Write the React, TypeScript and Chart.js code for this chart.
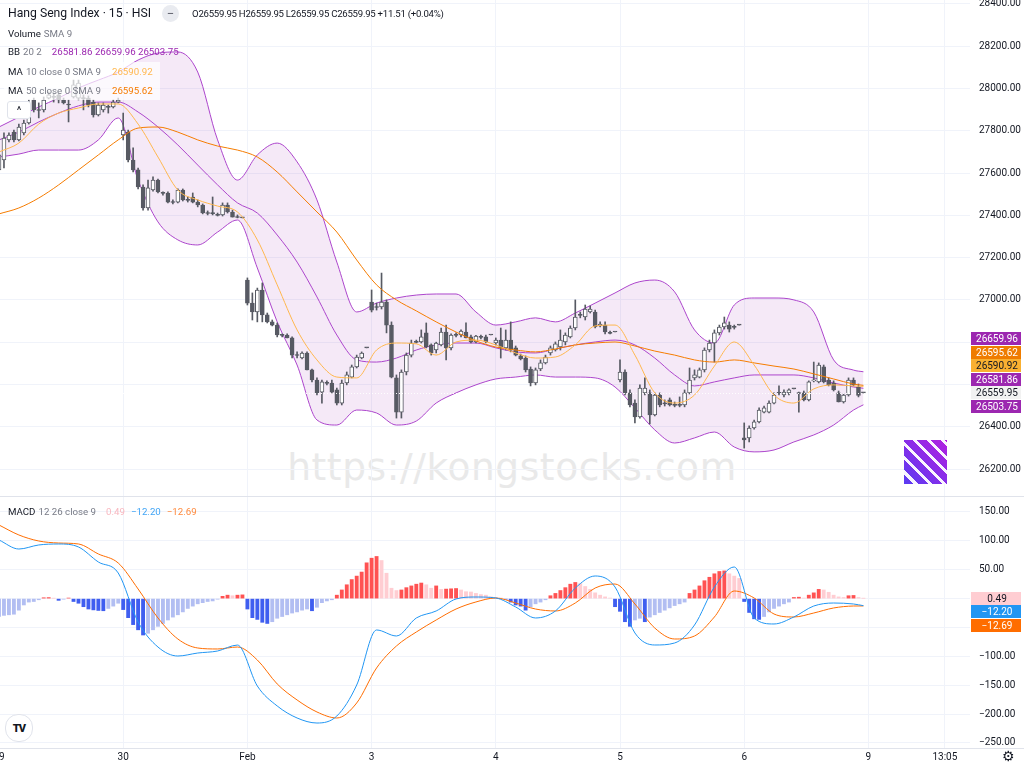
import React, { useEffect, useRef } from "react";
import { Chart, registerables } from "chart.js";

Chart.register(...registerables);

// ---------------- data (15-minute bars, Jan 29 .. Feb 6) ----------------
const OPEN = [
  27615, 27662, 27757, 27794, 27757, 27790, 27837, 27946, 27899, 27899, 27955, 27960, 27970, 27946, 27927, 27960, 27955, 27955, 27955, 27936, 27875, 27899, 27913, 27913, 27936,
  27780, 27794, 27662, 27615, 27534, 27435, 27520, 27567, 27506, 27506, 27463, 27463, 27520, 27473, 27487, 27463, 27449, 27411, 27411, 27402, 27402, 27449, 27416, 27392, 27388,
  27094, 26985, 26943, 27047, 26929, 26896, 26881, 26834, 26834, 26820, 26739, 26725, 26749, 26669, 26621, 26564, 26607, 26607, 26574, 26512, 26607, 26635, 26683, 26725, 26773,
  26990, 26967, 26967, 26990, 26881, 26631, 26469, 26659, 26739, 26801, 26801, 26844, 26787, 26763, 26787, 26848, 26773, 26834, 26834, 26848, 26825, 26801, 26825, 26825, 26834,
  26796, 26810, 26773, 26810, 26773, 26735, 26725, 26673, 26607, 26673, 26702, 26749, 26763, 26777, 26801, 26825, 26867, 26929, 26919, 26943, 26943, 26877, 26881, 26844, 26848,
  26621, 26659, 26560, 26512, 26446, 26560, 26560, 26456, 26550, 26512, 26527, 26503, 26503, 26503, 26560, 26631, 26635, 26669, 26763, 26796, 26844, 26872, 26881, 26872, 26881,
  26347, 26347, 26394, 26423, 26469, 26469, 26512, 26560, 26550, 26560, 26579, 26560, 26560, 26527, 26617, 26612, 26683, 26621, 26607, 26560, 26517, 26550, 26621, 26588, 26559.95,
];
const HIGH = [
  27709, 27790, 27790, 27804, 27832, 27851, 27946, 27955, 27932, 27960, 27984, 27979, 27979, 27955, 27946, 28040, 28040, 27970, 27965, 27946, 27932, 27932, 27922, 27946, 27955,
  27884, 27804, 27719, 27624, 27544, 27567, 27582, 27572, 27511, 27511, 27473, 27525, 27525, 27487, 27506, 27473, 27454, 27421, 27487, 27411, 27459, 27459, 27425, 27402, 27388,
  27104, 27033, 27056, 27080, 26938, 26905, 26891, 26839, 26839, 26825, 26754, 26754, 26754, 26673, 26631, 26621, 26617, 26621, 26583, 26621, 26659, 26692, 26739, 26754, 26773,
  27047, 26985, 27127, 27000, 26896, 26645, 26669, 26749, 26810, 26810, 26858, 26891, 26792, 26800, 26867, 26881, 26840, 26844, 26858, 26891, 26834, 26832, 26834, 26834, 26834,
  26820, 26867, 26858, 26896, 26782, 26744, 26735, 26683, 26678, 26716, 26739, 26782, 26801, 26858, 26844, 26877, 27000, 26943, 26976, 26971, 26952, 26896, 26896, 26853, 26848,
  26716, 26669, 26574, 26527, 26598, 26631, 26574, 26560, 26560, 26527, 26536, 26517, 26541, 26574, 26678, 26669, 26678, 26773, 26810, 26858, 26881, 26919, 26896, 26881, 26881,
  26418, 26404, 26432, 26489, 26498, 26522, 26560, 26593, 26574, 26579, 26579, 26564, 26569, 26617, 26706, 26702, 26692, 26631, 26617, 26569, 26555, 26631, 26631, 26602, 26559.95,
];
const LOW = [
  27591, 27624, 27747, 27747, 27752, 27780, 27832, 27889, 27861, 27889, 27951, 27936, 27932, 27927, 27842, 27955, 27946, 27899, 27913, 27865, 27870, 27889, 27884, 27908, 27932,
  27757, 27653, 27605, 27525, 27425, 27425, 27515, 27506, 27496, 27459, 27454, 27459, 27468, 27463, 27459, 27440, 27407, 27402, 27402, 27397, 27397, 27411, 27392, 27388, 27388,
  26976, 26905, 26896, 26896, 26891, 26877, 26825, 26825, 26820, 26725, 26725, 26721, 26669, 26612, 26550, 26512, 26598, 26560, 26503, 26503, 26598, 26631, 26678, 26721, 26773,
  26943, 26952, 26957, 26844, 26631, 26441, 26441, 26645, 26730, 26796, 26796, 26773, 26739, 26749, 26782, 26716, 26763, 26825, 26825, 26820, 26796, 26796, 26815, 26796, 26834,
  26787, 26725, 26763, 26754, 26735, 26716, 26659, 26593, 26598, 26665, 26697, 26739, 26758, 26763, 26787, 26820, 26858, 26915, 26905, 26938, 26867, 26872, 26839, 26839, 26848,
  26612, 26550, 26494, 26418, 26441, 26550, 26413, 26451, 26494, 26498, 26498, 26494, 26494, 26494, 26555, 26621, 26631, 26659, 26754, 26706, 26834, 26862, 26848, 26862, 26881,
  26299, 26328, 26389, 26418, 26465, 26465, 26508, 26550, 26541, 26550, 26579, 26469, 26522, 26522, 26612, 26607, 26607, 26593, 26569, 26517, 26512, 26545, 26593, 26541, 26559.95,
];
const CLOSE = [
  27686, 27766, 27780, 27757, 27818, 27837, 27865, 27899, 27896, 27946, 27970, 27958, 27946, 27932, 27922, 28017, 28026, 27952, 27922, 27875, 27922, 27922, 27911, 27936, 27946,
  27804, 27662, 27615, 27534, 27435, 27530, 27567, 27511, 27504, 27463, 27461, 27520, 27473, 27471, 27463, 27449, 27411, 27409, 27408, 27400, 27449, 27416, 27392, 27390, 27388,
  26985, 26943, 27047, 26929, 26896, 26881, 26834, 26832, 26820, 26739, 26737, 26749, 26669, 26621, 26560, 26612, 26605, 26564, 26512, 26607, 26645, 26683, 26730, 26749, 26773,
  26952, 26964, 26990, 26881, 26635, 26469, 26659, 26739, 26796, 26799, 26825, 26777, 26749, 26796, 26848, 26773, 26834, 26832, 26853, 26820, 26801, 26829, 26823, 26801, 26834,
  26810, 26773, 26810, 26763, 26739, 26721, 26669, 26607, 26669, 26702, 26730, 26773, 26792, 26810, 26834, 26867, 26919, 26927, 26957, 26957, 26872, 26886, 26848, 26842, 26848,
  26659, 26560, 26503, 26446, 26583, 26583, 26456, 26550, 26503, 26508, 26503, 26501, 26501, 26560, 26621, 26645, 26669, 26763, 26796, 26844, 26872, 26891, 26862, 26870, 26881,
  26337, 26394, 26423, 26479, 26489, 26512, 26550, 26558, 26564, 26574, 26579, 26557, 26527, 26612, 26621, 26692, 26612, 26598, 26574, 26517, 26550, 26621, 26598, 26548.44, 26559.95,
];

// indicator samples (bar index of each sample)
const IND_IDX = [0, 4, 8, 12, 16, 20, 24, 28, 32, 36, 40, 44, 48, 52, 56, 60, 64, 68, 72, 76, 80, 84, 88, 92, 96, 100, 104, 108, 112, 116, 120, 124, 128, 132, 136, 140, 144, 148, 152, 156, 160, 164, 168, 172, 174];
const BB_UPPER = [27818, 27865, 27913, 27955, 28003, 28040, 28078, 28135, 28168, 28173, 28078, 27757, 27567, 27686, 27742, 27653, 27473, 27179, 26943, 26985, 27009, 27023, 27028, 27028, 26943, 26881, 26896, 26915, 26896, 26938, 26985, 27033, 27080, 27094, 27038, 26858, 26796, 26976, 27009, 27009, 27000, 26943, 26716, 26668, 26659.96];
const BB_BASIS = [27757, 27794, 27842, 27884, 27918, 27936, 27936, 27889, 27818, 27733, 27638, 27544, 27459, 27411, 27307, 27179, 27014, 26834, 26716, 26706, 26725, 26763, 26787, 26796, 26796, 26773, 26754, 26749, 26768, 26787, 26801, 26810, 26787, 26725, 26645, 26593, 26612, 26631, 26645, 26645, 26645, 26631, 26607, 26588, 26581.86];
const BB_LOWER = [27676, 27690, 27709, 27709, 27709, 27757, 27861, 27567, 27369, 27284, 27260, 27321, 27378, 27151, 26896, 26692, 26432, 26408, 26479, 26465, 26408, 26427, 26512, 26560, 26598, 26626, 26635, 26645, 26635, 26635, 26631, 26588, 26489, 26385, 26323, 26347, 26375, 26304, 26281, 26290, 26328, 26361, 26408, 26479, 26503.75];
const MA10 = [27700, 27742, 27832, 27884, 27908, 27927, 27927, 27832, 27676, 27520, 27473, 27444, 27416, 27284, 27071, 26858, 26716, 26635, 26631, 26763, 26796, 26792, 26739, 26801, 26810, 26787, 26749, 26725, 26730, 26787, 26877, 26881, 26739, 26560, 26512, 26550, 26687, 26801, 26692, 26550, 26512, 26579, 26598, 26593, 26590.92];
const MA50 = [27407, 27435, 27482, 27544, 27615, 27686, 27757, 27813, 27818, 27794, 27757, 27728, 27709, 27676, 27605, 27511, 27416, 27321, 27189, 27071, 27000, 26948, 26896, 26848, 26806, 26777, 26763, 26754, 26768, 26787, 26796, 26801, 26782, 26758, 26739, 26716, 26706, 26716, 26702, 26687, 26673, 26650, 26626, 26602, 26595.62];

const MACD_LINE = [101.5, 85.9, 92.9, 94.6, 89.4, 63.4, 44.4, -40.5, -83.8, -99.4, -94.2, -90.7, -80.4, -151.3, -185.9, -206.7, -215.4, -203.3, -149.6, -54.3, -64.7, -33.5, -21.4, -0.6, 2.8, 1.1, -14.5, -33.5, -21.4, 18.4, 39.2, 20.1, -59.5, -80.3, -76.8, -45.7, 20.1, 54.8, -33.5, -43.9, -31.8, -12.8, -7.6, -9.3, -12.2];
const MACD_SIGNAL = [127.5, 110.2, 99.8, 96.3, 94.6, 77.3, 61.7, 16.7, -33.5, -69.9, -85.5, -87.2, -83.8, -106.3, -147.8, -175.5, -196.3, -206.7, -180.7, -120.1, -82.0, -57.8, -37.0, -18.0, -5.8, 1.1, -7.6, -18.0, -21.4, -7.6, 18.4, 25.3, -9.3, -50.9, -69.9, -64.7, -31.8, 13.2, 1.1, -26.6, -31.8, -24.9, -16.2, -12.8, -12.69];
const MACD_HIST = [
  -31, -29, -28, -27, -20, -11, -6, -5, -2, 1.5, 1.8, 0.5, -3, -1, 1, -5, -8, -14, -18, -19.5,
  -20.5, -21, -17, -13, -8, -19, -33, -45, -54, -63, -60, -54, -48, -43, -37, -32, -28, -23, -17, -13,
  -9, -7, -5, -4, -1, 4, 6, 5, 6, 6.5, -18, -33, -36, -41, -43, -40, -34, -31, -28, -25,
  -23, -20, -18, -21, -15, -7, -4, -2, 6, 15, 24, 33, 39, 46, 62, 70, 73, 66, 44, 18,
  14, 15, 19, 22, 25, 27, 24, 18, 22, 16, 16.5, 17, 17.5, 15, 12, 11.5, 9, 7, 6, 3,
  2, 1, -1, -6, -11, -13, -20, -14, -9, -6, -2, 5, 9, 14, 19, 25, 28, 26, 21, 16,
  10, 6, 3, 1, -14, -22, -40, -48, -37, -34, -40, -32, -28, -24, -20, -16, -12, -9, -6, 9,
  15, 22, 31, 37, 43, 47, 48, 43, 39, 35, -5, -24, -35, -36, -31, -23, -17, -13, -9, -6,
  2, 2.5, 1, 6, 10, 16, 15, 11, 6, 3, 2, 5, 5.5, 2, 0.49,
];

const X_TICKS = [0, 25, 50, 75, 100, 125, 150, 175, 190.4];
const X_LABELS = ["29", "30", "Feb", "3", "4", "5", "6", "9", "13:05"];
const PRICE_TICKS = [26200, 26400, 26600, 26800, 27000, 27200, 27400, 27600, 27800, 28000, 28200, 28400];
const MACD_TICKS = [-250, -200, -150, -100, -50, 0, 50, 100, 150];

// ---------------- styles ----------------
const FONT = "Roboto, 'Noto Sans', sans-serif";
const TEXT = "#131722";
const GREY = "#787b86";
const GRID = "#f0f3fa";
const PURPLE = "#9c27b0";
const BB_LINE = "#ac45cc";
const MA10_C = "#ffb74d";
const MA50_C = "#f57c00";
const CANDLE_DARK = "#575a63";
const WICK = "#575a63";
const MACD_C = "#2196f3";
const SIG_C = "#ff6d00";

const X_MIN = 0.2013;
const X_MAX = 195.45;
const P_MIN = 26072.26;
const P_MAX = 28418.92;
const M_MIN = -258.66;
const M_MAX = 175.97;
const AXIS_W = 54;

const last = (a: number[]) => a[a.length - 1];
const fmt = (v: number) => (v < 0 ? "\u2212" : "") + Math.abs(v).toFixed(2);

type Box = { value: number; bg: string; fg: string };

function drawAxisLabels(chart: any, ticks: number[]) {
  const ctx = chart.ctx;
  const y = chart.scales.y;
  ctx.save();
  ctx.font = "10px " + FONT;
  ctx.fillStyle = TEXT;
  ctx.textAlign = "left";
  ctx.textBaseline = "middle";
  ticks.forEach((v) => ctx.fillText(fmt(v), 979, y.getPixelForValue(v)));
  ctx.restore();
}

function drawBoxes(chart: any, items: Box[], anchor: number) {
  const ctx = chart.ctx;
  const y = chart.scales.y;
  const h = 13.5;
  const ideal = items.map((it) => y.getPixelForValue(it.value));
  const pos = ideal.slice();
  for (let k = anchor - 1; k >= 0; k--) pos[k] = Math.min(ideal[k], pos[k + 1] - h);
  for (let k = anchor + 1; k < items.length; k++) pos[k] = Math.max(ideal[k], pos[k - 1] + h);
  ctx.save();
  ctx.font = "10px " + FONT;
  ctx.textAlign = "center";
  ctx.textBaseline = "middle";
  items.forEach((it, k) => {
    const top = Math.round(pos[k] - h / 2);
    ctx.fillStyle = it.bg;
    ctx.fillRect(971, top, 50, 13);
    ctx.fillStyle = it.fg;
    ctx.fillText(fmt(it.value), 997, top + 7);
  });
  ctx.restore();
}

const IDX = OPEN.map((_, i) => i);

export default function App() {
  const priceRef = useRef<HTMLCanvasElement>(null);
  const macdRef = useRef<HTMLCanvasElement>(null);

  useEffect(() => {
    document.body.style.margin = "0";
    Chart.defaults.font.family = FONT;

    const xScale = () => ({
      type: "linear" as const,
      min: X_MIN,
      max: X_MAX,
      offset: false,
      afterBuildTicks: (s: any) => {
        s.ticks = X_TICKS.map((v) => ({ value: v }));
      },
      ticks: { display: false },
      grid: { color: GRID, drawTicks: false, offset: false },
      border: { display: false },
    });

    const yScale = (min: number, max: number, ticks: number[]) => ({
      type: "linear" as const,
      position: "right" as const,
      min,
      max,
      afterBuildTicks: (s: any) => {
        s.ticks = ticks.map((v) => ({ value: v }));
      },
      afterFit: (s: any) => {
        s.width = AXIS_W;
      },
      ticks: { display: false },
      grid: { color: GRID, drawTicks: false },
      border: { display: false },
    });

    const line = (label: string, ys: number[], color: string, extra: any = {}) => ({
      type: "line" as const,
      label,
      data: IND_IDX.map((x, k) => ({ x, y: ys[k] })),
      borderColor: color,
      borderWidth: 1,
      pointRadius: 0,
      cubicInterpolationMode: "monotone" as const,
      fill: false,
      ...extra,
    });

    const bodyFill = IDX.map((i) => (CLOSE[i] > OPEN[i] ? "#ffffff" : CANDLE_DARK));

    const pricePlugin = {
      id: "priceDecor",
      afterDraw(chart: any) {
        const ctx = chart.ctx;
        const a = chart.chartArea;
        const yl = chart.scales.y.getPixelForValue(last(CLOSE));
        ctx.save();
        ctx.strokeStyle = "rgba(255,255,255,0.95)";
        ctx.setLineDash([1, 2]);
        ctx.lineWidth = 1;
        ctx.beginPath();
        ctx.moveTo(a.left, Math.round(yl) + 0.5);
        ctx.lineTo(a.right, Math.round(yl) + 0.5);
        ctx.stroke();
        ctx.setLineDash([]);
        ctx.strokeStyle = "#e0e3eb";
        ctx.beginPath();
        ctx.moveTo(0, a.bottom + 0.5);
        ctx.lineTo(1024, a.bottom + 0.5);
        ctx.stroke();
        ctx.restore();
        drawAxisLabels(chart, PRICE_TICKS);
        drawBoxes(
          chart,
          [
            { value: last(BB_UPPER), bg: PURPLE, fg: "#ffffff" },
            { value: last(MA50), bg: "#ef7c00", fg: "#ffffff" },
            { value: last(MA10), bg: "#f9b031", fg: TEXT },
            { value: last(BB_BASIS), bg: PURPLE, fg: "#ffffff" },
            { value: last(CLOSE), bg: "#f2f2f2", fg: TEXT },
            { value: last(BB_LOWER), bg: PURPLE, fg: "#ffffff" },
          ],
          4
        );
      },
    };

    const priceChart = new Chart(priceRef.current as HTMLCanvasElement, {
      type: "bar",
      data: {
        datasets: [
          line("BB upper", BB_UPPER, BB_LINE, { fill: "+2", backgroundColor: "rgba(156,39,176,0.1)", order: 10 }),
          line("BB basis", BB_BASIS, BB_LINE, { order: 10 }),
          line("BB lower", BB_LOWER, BB_LINE, { order: 10 }),
          {
            label: "wick",
            data: IDX.map((i) => ({ x: i, y: [LOW[i], HIGH[i]] })),
            backgroundColor: WICK,
            barThickness: 1,
            grouped: false,
            order: 6,
          } as any,
          {
            label: "body",
            data: IDX.map((i) => ({ x: i, y: [OPEN[i], CLOSE[i]] })),
            backgroundColor: bodyFill,
            borderColor: CANDLE_DARK,
            borderWidth: 1,
            borderSkipped: false,
            barThickness: 4,
            minBarLength: 1,
            grouped: false,
            order: 5,
          } as any,
          line("MA 10", MA10, MA10_C, { order: 1 }),
          line("MA 50", MA50, MA50_C, { order: 1 }),
        ],
      },
      options: {
        responsive: false,
        animation: false,
        layout: { padding: { left: 0, right: 0, top: 0, bottom: 1 } },
        plugins: {
          legend: { display: false },
          tooltip: { enabled: false },
          filler: { drawTime: "beforeDatasetsDraw" } as any,
        },
        scales: {
          x: xScale() as any,
          y: yScale(P_MIN, P_MAX, PRICE_TICKS) as any,
        },
      },
      plugins: [pricePlugin],
    });

    const histColors = MACD_HIST.map((v, i) => {
      const rising = i === 0 ? true : v > MACD_HIST[i - 1];
      if (v >= 0) return rising ? "#ff5252" : "#ffcdd2";
      return rising ? "#b2bef2" : "#3f5ef0";
    });

    const macdPlugin = {
      id: "macdDecor",
      afterDraw(chart: any) {
        const ctx = chart.ctx;
        const a = chart.chartArea;
        const xs = chart.scales.x;
        ctx.save();
        ctx.strokeStyle = "#e0e3eb";
        ctx.lineWidth = 1;
        ctx.beginPath();
        ctx.moveTo(0, a.bottom + 0.5);
        ctx.lineTo(1024, a.bottom + 0.5);
        ctx.stroke();
        ctx.font = "10px " + FONT;
        ctx.fillStyle = TEXT;
        ctx.textAlign = "center";
        ctx.textBaseline = "middle";
        X_TICKS.forEach((v, k) => {
          ctx.fillText(X_LABELS[k], xs.getPixelForValue(v), a.bottom + 9);
        });
        ctx.restore();
        drawAxisLabels(chart, MACD_TICKS);
        drawBoxes(
          chart,
          [
            { value: last(MACD_HIST), bg: "#ffcdd2", fg: TEXT },
            { value: last(MACD_LINE), bg: MACD_C, fg: "#ffffff" },
            { value: last(MACD_SIGNAL), bg: SIG_C, fg: "#ffffff" },
          ],
          0
        );
      },
    };

    const macdChart = new Chart(macdRef.current as HTMLCanvasElement, {
      type: "bar",
      data: {
        datasets: [
          {
            label: "Histogram",
            data: IDX.map((i) => ({ x: i, y: MACD_HIST[i] })),
            backgroundColor: histColors,
            barThickness: 3.2,
            grouped: false,
            order: 5,
          } as any,
          line("MACD", MACD_LINE, MACD_C, { order: 1 }),
          line("Signal", MACD_SIGNAL, SIG_C, { order: 1 }),
        ],
      },
      options: {
        responsive: false,
        animation: false,
        layout: { padding: { left: 0, right: 0, top: 0, bottom: 20 } },
        plugins: { legend: { display: false }, tooltip: { enabled: false } },
        scales: {
          x: xScale() as any,
          y: yScale(M_MIN, M_MAX, MACD_TICKS) as any,
        },
      },
      plugins: [macdPlugin],
    });

    return () => {
      priceChart.destroy();
      macdChart.destroy();
    };
  }, []);

  const row: React.CSSProperties = {
    position: "absolute",
    left: 8,
    height: 18,
    display: "flex",
    alignItems: "center",
    whiteSpace: "nowrap",
    fontSize: 9.7,
    color: TEXT,
  };
  const g: React.CSSProperties = { color: GREY, marginLeft: 3 };

  return (
    <div
      style={{
        position: "fixed",
        left: 0,
        top: 0,
        width: 1024,
        height: 768,
        background: "#ffffff",
        overflow: "hidden",
        fontFamily: FONT,
      }}
    >
      <div
        style={{
          position: "absolute",
          left: 232,
          top: 445,
          width: 560,
          textAlign: "center",
          fontSize: 37.5,
          color: "#e9e9e9",
          fontFamily: "'DejaVu Sans', sans-serif",
          letterSpacing: 0.6,
        }}
      >
        https://kongstocks.com
      </div>
      <canvas ref={priceRef} width={1024} height={497} style={{ position: "absolute", left: 0, top: 0 }} />
      <canvas ref={macdRef} width={1024} height={271} style={{ position: "absolute", left: 0, top: 497 }} />

      {/* price pane legend */}
      <div style={{ ...row, top: 4, fontSize: 12.2 }}>
        <span>Hang Seng Index · 15 · HSI</span>
        <span
          style={{
            marginLeft: 11,
            width: 17,
            height: 17,
            borderRadius: 9,
            background: "#e9ebf0",
            color: "#5d606b",
            display: "inline-flex",
            alignItems: "center",
            justifyContent: "center",
            fontSize: 13,
          }}
        >
          −
        </span>
        <span style={{ marginLeft: 13, fontSize: 9.6, letterSpacing: -0.25 }}>
          O{last(OPEN).toFixed(2)} H{last(HIGH).toFixed(2)} L{last(LOW).toFixed(2)} C{last(CLOSE).toFixed(2)} +11.51 (+0.04%)
        </span>
      </div>
      <div style={{ ...row, top: 24 }}>
        <span>Volume</span>
        <span style={g}>SMA 9</span>
      </div>
      <div style={{ ...row, top: 42 }}>
        <span>BB</span>
        <span style={g}>20 2</span>
        <span style={{ color: PURPLE, marginLeft: 10 }}>
          {last(BB_BASIS).toFixed(2)} {last(BB_UPPER).toFixed(2)} {last(BB_LOWER).toFixed(2)}
        </span>
      </div>
      <div style={{ position: "absolute", left: 4, top: 62, width: 156, height: 38, background: "rgba(255,255,255,0.7)" }} />
      <div style={{ ...row, top: 62 }}>
        <span>MA</span>
        <span style={g}>10 close 0 SMA 9</span>
        <span style={{ color: MA10_C, marginLeft: 11 }}>{last(MA10).toFixed(2)}</span>
      </div>
      <div style={{ ...row, top: 81 }}>
        <span>MA</span>
        <span style={g}>50 close 0 SMA 9</span>
        <span style={{ color: MA50_C, marginLeft: 11 }}>{last(MA50).toFixed(2)}</span>
      </div>
      <div
        style={{
          position: "absolute",
          left: 7,
          top: 101,
          width: 22,
          height: 16,
          border: "1px solid #e0e3eb",
          borderRadius: 3,
          background: "#ffffff",
          display: "flex",
          alignItems: "center",
          justifyContent: "center",
          fontSize: 11,
          color: TEXT,
        }}
      >
        ^
      </div>

      {/* logo */}
      <div
        style={{
          position: "absolute",
          left: 904,
          top: 440,
          width: 43,
          height: 44,
          background:
            "repeating-linear-gradient(45deg, rgba(255,255,255,0) 0px, rgba(255,255,255,0) 7px, rgba(255,255,255,0.95) 7px, rgba(255,255,255,0.95) 10px), linear-gradient(225deg, #b31fe0, #5a3cf2)",
        }}
      />

      {/* MACD legend */}
      <div style={{ ...row, top: 502 }}>
        <span>MACD</span>
        <span style={g}>12 26 close 9</span>
        <span style={{ color: "#f8b7bf", marginLeft: 10 }}>{last(MACD_HIST).toFixed(2)}</span>
        <span style={{ color: "#42a5f5", marginLeft: 6 }}>{fmt(last(MACD_LINE))}</span>
        <span style={{ color: "#ff8a3d", marginLeft: 6 }}>{fmt(last(MACD_SIGNAL))}</span>
      </div>

      {/* TradingView badge */}
      <div
        style={{
          position: "absolute",
          left: 5,
          top: 714,
          width: 26,
          height: 26,
          borderRadius: 13,
          border: "1px solid #e0e3eb",
          background: "#ffffff",
          display: "flex",
          alignItems: "center",
          justifyContent: "center",
          fontSize: 11,
          fontWeight: 900,
          color: "#131722",
          letterSpacing: -1,
        }}
      >
        TV
      </div>
      <div style={{ position: "absolute", left: 1002, top: 748, fontSize: 14, color: TEXT }}>⚙</div>
    </div>
  );
}
